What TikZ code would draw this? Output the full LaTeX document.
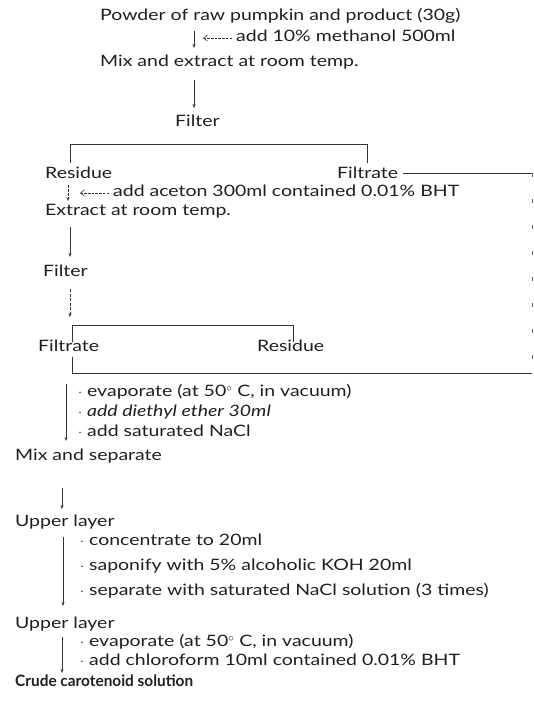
\documentclass[tikz,border=0pt]{standalone}
\usepackage{fontspec}
\setmainfont{Lato}[FakeStretch=1.24]
\newfontfamily\crudefont{Lato}[FakeStretch=0.98]
\usetikzlibrary{arrows.meta}
\tikzset{
  lbl/.style={anchor=west, inner sep=0pt, text height=10pt, text depth=3pt, font=\fontsize{15.7}{18}\selectfont, text=black!88},
  ln/.style={draw=black!80, line width=0.6pt},
  arr/.style={ln, -{Stealth[length=4pt,width=3pt]}},
  addarr/.style={ln, dashed, dash pattern=on 2.5pt off 1.2pt, -{Straight Barb[length=4pt,width=6pt]}},
  faint/.style={draw=black!60, line width=0.5pt, dash pattern=on 4pt off 22pt}
}
\begin{document}
\begin{tikzpicture}[x=1pt,y=-1pt]
\useasboundingbox (0,0) rectangle (534,713);

% first extraction with methanol
\node[lbl] (powder) at (100,17) {Powder of raw pumpkin and product (30g)};
\node[lbl] (meth) at (236,38) {add 10\% methanol 500ml};
\node[lbl] (mix) at (100,63) {Mix and extract at room temp.};
\node[lbl] (filt1) at (175,123) {Filter};
\draw[arr] (194,31) -- (194,48);
\draw[addarr] (meth.west) ++(-4,0) -- (203,38);
\draw[arr] (194,80) -- (194,108);

% split after the first filter
\node[lbl] (res1) at (45,175) {Residue};
\node[lbl] (fil1) at (337,175) {Filtrate};
\coordinate (b1l) at (70,144);
\coordinate (b1r) at (367,144);
\draw[ln] (70,163) -- (b1l) -- (b1r) -- (367,163);

% filtrate carried to the right and down
\coordinate (rt) at (532,173);
\coordinate (rb) at (532,373);
\draw[ln] (fil1.east) ++(5,-2) -- (rt);
\draw[faint] (rt) -- (rb);

% second extraction with acetone
\node[lbl] (acet) at (113,193) {add aceton 300ml contained 0.01\% BHT};
\node[lbl] (ext) at (45,212) {Extract at room temp.};
\node[lbl] (filt2) at (43,273) {Filter};
\draw[arr, dashed, dash pattern=on 3pt off 1pt] (68,185) -- (68,201);
\draw[addarr] (acet.west) ++(-4,0) -- (80,193);
\draw[arr] (70,227) -- (70,257);
\draw[arr, dashed, dash pattern=on 3pt off 1.5pt] (70,289) -- (70,317);

% split after the second filter
\node[lbl] (fil2) at (38,348) {Filtrate};
\node[lbl] (res2) at (257,348) {Residue};
\draw[ln] (72,342) -- (72,325) -- (293,325) -- (293,342);

% both filtrates combined
\draw[ln] (72,357) -- (72,373) -- (rb);

% concentration and partition
\node[lbl] (s1) at (78,393) {$\cdot$ evaporate (at 50$^\circ$ C, in vacuum)};
\node[lbl] (s2) at (78,413) {$\cdot$ \textit{add diethyl ether 30ml}};
\node[lbl] (s3) at (78,433) {$\cdot$ add saturated NaCl};
\node[lbl] (mixsep) at (15,457) {Mix and separate};
\draw[arr] (66,384) -- (66,441);

\node[lbl] (up1) at (15,523) {Upper layer};
\draw[arr] (62,488) -- (62,509);

% saponification
\node[lbl] (s4) at (80,542) {$\cdot$ concentrate to 20ml};
\node[lbl] (s5) at (80,567) {$\cdot$ saponify with 5\% alcoholic KOH 20ml};
\node[lbl] (s6) at (80,592) {$\cdot$ separate with saturated NaCl solution (3 times)};
\node[lbl] (up2) at (15,625) {Upper layer};
\draw[arr] (63,537) -- (63,606);

% final solution
\node[lbl, font=\fontsize{15.7}{18}\selectfont\crudefont\bfseries] (crude) at (15,683) {Crude carotenoid solution};
\node[lbl] (s7) at (80,643) {$\cdot$ evaporate (at 50$^\circ$ C, in vacuum)};
\node[lbl] (s8) at (80,662) {$\cdot$ add chloroform 10ml contained 0.01\% BHT};
\draw[arr] (62,637) -- (62,673);
\end{tikzpicture}
\end{document}
